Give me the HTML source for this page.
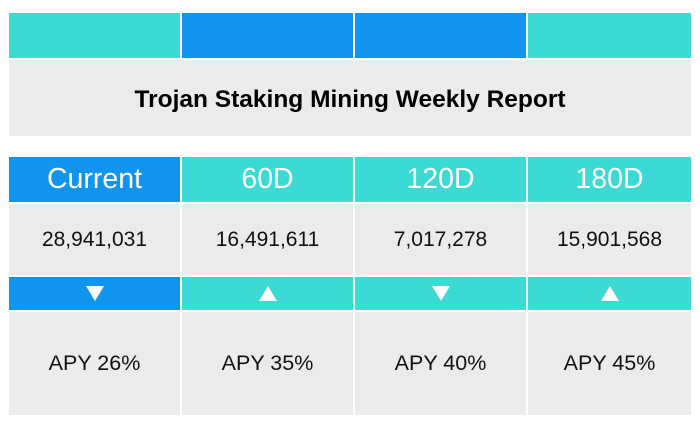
<!DOCTYPE html>
<html><head><meta charset="utf-8"><style>
body{margin:0;width:700px;height:426px;background:#fff;position:relative;overflow:hidden;font-family:"Liberation Sans",sans-serif}
.c{position:absolute;display:flex;align-items:center;justify-content:center;box-sizing:border-box}
.t{background:#3BDAD4}.b{background:#1194EE}.g{background:#EBEBEB;color:#111}
.h{color:#fff;font-size:28.5px}
.v{font-size:21px}.a{font-size:21.5px}
.tri{width:0;height:0;border-left:9px solid transparent;border-right:9px solid transparent}
.dn{border-top:15px solid #fff}.up{border-bottom:15px solid #fff}
</style></head><body>
<div id="root"></div>
<script>
const labels=["Current","60D","120D","180D"];
const values=["28,941,031","16,491,611","7,017,278","15,901,568"];
const dirs=["down","up","down","up"];
const apy=[26,35,40,45];
const topColors=["t","b","b","t"];
const cols=[[9,171],[182,171],[355,171],[528,163]];
const root=document.getElementById('root');
function cell(cls,x,y,w,h,name){const d=document.createElement('div');d.className='c '+cls;d.style.cssText=`left:${x}px;top:${y}px;width:${w}px;height:${h}px`;


root.appendChild(d);return d;}
cols.forEach(([x,w],i)=>{
 cell(topColors[i],x,13,w,45,'top-bar-'+i);
 const hd=cell((i==0?'b':'t')+' h',x,157,w,45,'header-'+labels[i].toLowerCase());hd.textContent=labels[i];
 const v=cell('g v',x,204,w,71,'value-'+i);v.textContent=values[i];
 const ar=cell(i==0?'b':'t',x,277,w,33,'trend-'+i);
 const tr=document.createElement('div');tr.className='tri '+(dirs[i]=='down'?'dn':'up');
 
 
 ar.appendChild(tr);
 const a=cell('g a',x,312,w,103,'apy-'+i);a.textContent='APY '+apy[i]+'%';
});
const t=cell('g',9,60,682,76,'report-title');t.style.fontWeight='bold';t.style.fontSize='24.5px';t.style.color='#000';t.style.paddingTop='4px';t.textContent='Trojan Staking Mining Weekly Report';
</script>
</body></html>
